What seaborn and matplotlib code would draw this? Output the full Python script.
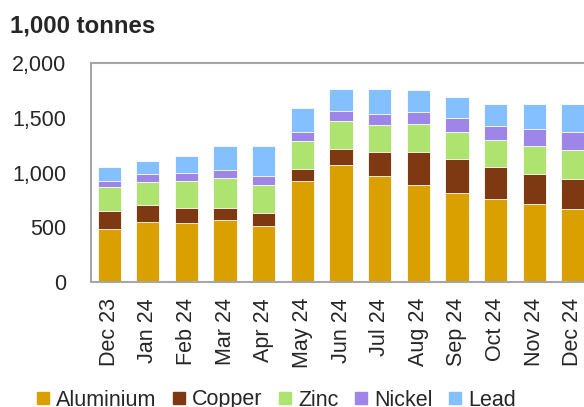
import pandas as pd
import matplotlib
matplotlib.use('Agg')
import matplotlib.pyplot as plt
import seaborn as sns
from matplotlib.lines import Line2D

# data (1,000 tonnes)
months = ['Dec 23', 'Jan 24', 'Feb 24', 'Mar 24', 'Apr 24', 'May 24', 'Jun 24',
          'Jul 24', 'Aug 24', 'Sep 24', 'Oct 24', 'Nov 24', 'Dec 24']
aluminium = [481, 551, 542, 569, 514, 925, 1071, 971, 889, 815, 761, 715, 669]
copper = [170, 152, 137, 110, 116, 110, 146, 219, 301, 311, 292, 274, 274]
zinc = [219, 213, 246, 274, 259, 255, 256, 246, 256, 247, 247, 256, 265]
nickel = [55, 73, 73, 73, 82, 83, 91, 101, 109, 127, 127, 155, 165]
lead = [128, 119, 155, 219, 274, 219, 201, 228, 201, 192, 201, 228, 255]

metals = ['Aluminium', 'Copper', 'Zinc', 'Nickel', 'Lead']
colors = ['#DAA000', '#7F3912', '#AEE36F', '#9E86E8', '#84C0FF']

sns.set_theme(style='white')
plt.rcParams['font.family'] = ['Liberation Sans', 'DejaVu Sans']

df = pd.DataFrame({'month': months, 'Aluminium': aluminium, 'Copper': copper,
                   'Zinc': zinc, 'Nickel': nickel, 'Lead': lead})
cum = df[metals].cumsum(axis=1)

fig = plt.figure(figsize=(5.84, 4.07), dpi=100)
ax = fig.add_axes([91 / 584, 1 - 282 / 407, 500 / 584, 219 / 407])

# draw cumulative totals top-down so each layer shows as a stacked segment
for metal, col in reversed(list(zip(metals, colors))):
    sns.barplot(x=df['month'], y=cum[metal], color=col, width=0.6,
                edgecolor='white', linewidth=0.6, saturation=1, ax=ax)

ax.set_ylim(0, 2000)
ax.set_xlim(-0.47, 12.47)
ax.set_yticks([0, 500, 1000, 1500, 2000])
ax.set_yticklabels(['0', '500', '1,000', '1,500', '2,000'])
ax.set_xlabel('')
ax.set_ylabel('')
ax.tick_params(axis='y', labelsize=15.5, pad=18, length=0)
ax.tick_params(axis='x', labelsize=15.5, pad=11.5, length=0, rotation=90)
for s in ax.spines.values():
    s.set_color('#A6A6A6')
    s.set_linewidth(1.5)

fig.text(10 / 584, 1 - 26 / 407, '1,000 tonnes', fontsize=17.3, fontweight='bold',
         va='center', ha='left')

# legend sits low, its lower edge clipped by the figure as in the source
handles = [Line2D([], [], marker='s', linestyle='', markersize=8.5,
                  markerfacecolor=c, markeredgecolor=c) for c in colors]
fig.legend(handles, metals, loc='center', bbox_to_anchor=(0.473, 1 - 400 / 407),
           ncol=5, frameon=False, fontsize=15.5, handletextpad=0.3,
           columnspacing=0.75, handlelength=0.6, borderpad=0)

fig.savefig('out.png', dpi=100)
